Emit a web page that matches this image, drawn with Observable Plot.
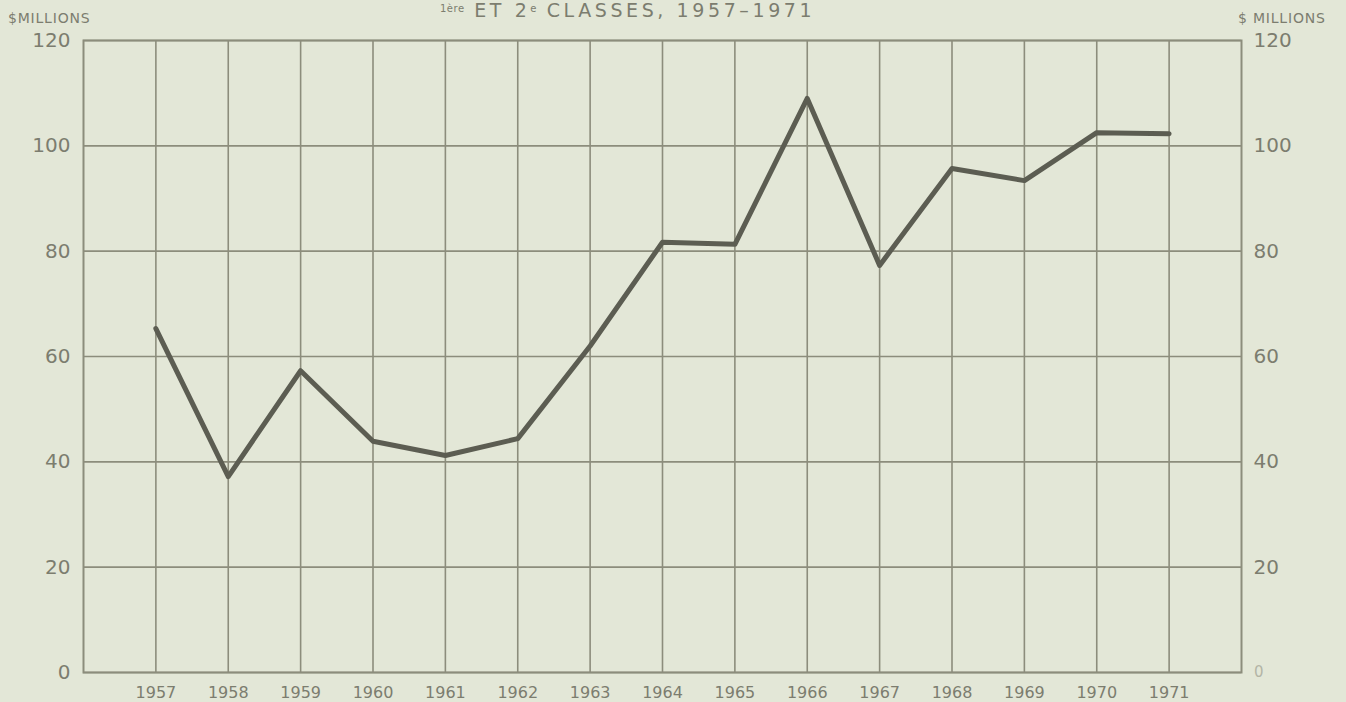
<!DOCTYPE html>
<html>
<head>
<meta charset="utf-8">
<script src="https://cdn.jsdelivr.net/npm/d3@7"></script>
<script src="https://cdn.jsdelivr.net/npm/@observablehq/plot@0.6"></script>
<style>
  html, body { margin: 0; padding: 0; background: #e3e7d7; }
  #wrap { position: relative; width: 1346px; height: 702px; overflow: hidden; font-family: "DejaVu Sans", sans-serif; color: #7c7d6f; }
  #title { position: absolute; top: 0px; left: 440px; font-size: 19px; line-height: 18px; letter-spacing: 3.6px; white-space: nowrap; }
  #title sup { font-size: 10px; letter-spacing: 0.5px; vertical-align: 0.45em; }
  .unit { position: absolute; top: 10px; font-size: 14px; letter-spacing: 0.8px; white-space: nowrap; }
  #unitL { left: 8px; }
  #unitR { left: 1238px; }
</style>
</head>
<body>
<div id="wrap">
  <div id="title"><sup>1ère</sup> ET 2<sup>e</sup> CLASSES, 1957–1971</div>
  <div class="unit" id="unitL">$MILLIONS</div>
  <div class="unit" id="unitR">$ MILLIONS</div>
  <div id="chart"></div>
</div>
<script>
const years = [1957, 1958, 1959, 1960, 1961, 1962, 1963, 1964, 1965, 1966, 1967, 1968, 1969, 1970, 1971];
const values = [65.3, 37.2, 57.3, 43.9, 41.2, 44.4, 62.0, 81.7, 81.3, 109.0, 77.3, 95.7, 93.4, 102.5, 102.3];
const yTicks = [0, 20, 40, 60, 80, 100, 120];
const yTicksRight = [20, 40, 60, 80, 100, 120];
const rightZero = [0];

const data = years.map((y, i) => ({year: y, value: values[i]}));
const gridColor = "#8c8d7c";
const textColor = "#7c7d6f";

const chart = Plot.plot({
  width: 1346,
  height: 702,
  marginLeft: 83,
  marginRight: 105,
  marginTop: 40,
  marginBottom: 30,
  style: { background: "transparent", fontFamily: "DejaVu Sans, sans-serif", color: textColor },
  x: { domain: [1956, 1972] },
  y: { domain: [0, 120] },
  marks: [
    Plot.ruleX(years, { stroke: gridColor, strokeWidth: 1.6 }),
    Plot.ruleY(yTicks, { stroke: gridColor, strokeWidth: 1.6 }),
    Plot.frame({ stroke: gridColor, strokeWidth: 2 }),
    Plot.axisY(yTicks, { anchor: "left", tickSize: 0, tickPadding: 13, fontSize: 20, fill: textColor, label: null }),
    Plot.axisY(yTicksRight, { anchor: "right", tickSize: 0, tickPadding: 12, fontSize: 20, fill: textColor, label: null }),
    Plot.text(rightZero, { y: d => d, frameAnchor: "right", dx: 22, text: d => String(d), fontSize: 15, fill: "#b3b5a6" }),
    Plot.axisX(years, { tickSize: 0, tickPadding: 14, fontSize: 16, fill: textColor, tickFormat: d => String(d), label: null }),
    Plot.line(data, { x: "year", y: "value", stroke: "#5c5d52", strokeWidth: 5, strokeLinejoin: "round", strokeLinecap: "round" })
  ]
});
document.getElementById("chart").appendChild(chart);
</script>
</body>
</html>
